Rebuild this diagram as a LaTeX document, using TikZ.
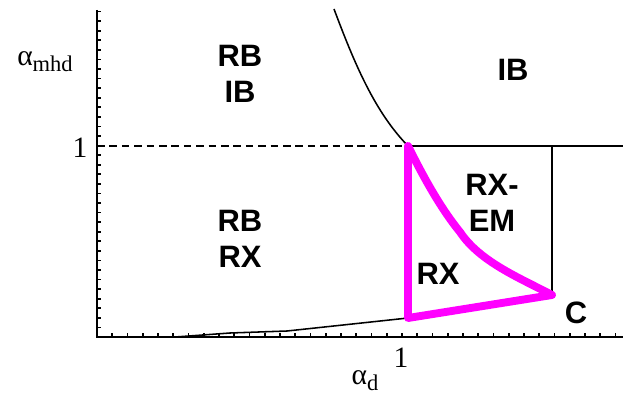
\documentclass[tikz,border=0pt]{standalone}
\usepackage{fontspec}
\setmainfont{Liberation Serif}
\newfontfamily\regionfont{Liberation Sans}
\usetikzlibrary{positioning}
\definecolor{RXMagenta}{RGB}{255,0,255}
\newcommand{\subtxt}[1]{\raisebox{-0.45ex}{\fontsize{16}{18}\selectfont #1}}
\tikzset{
  axis/.style={line width=1.8pt,draw=black},
  tick/.style={line width=1.2pt,draw=black},
  border/.style={line width=1.1pt,draw=black},
  rxpath/.style={line width=5.6pt,draw=RXMagenta,line join=round,line cap=round},
  region/.style={font=\regionfont\bfseries\fontsize{22}{26}\selectfont,align=center,inner sep=0pt},
  axlabel/.style={font=\fontsize{21}{24}\selectfont,inner sep=0pt}
}

\begin{document}
\begin{tikzpicture}[x=0.025cm,y=-0.025cm]
  \useasboundingbox (0,0) rectangle (623,400);
  % axes and ticks
  \coordinate (origin) at (97,337);
  \draw[axis] (97,10) -- (origin) -- (623,337);
  \foreach \k in {1,...,34} \draw[tick] (97,337-9.57*\k) -- ++(4,0);
  \foreach \k in {1,...,34} \draw[tick] (97+15.25*\k,337) -- ++(0,-4);
  \node[axlabel] (xone) at (401,358) {1};
  \node[axlabel] (yone) at (80,148) {1};
  \node[axlabel] (xlab) at (365,381) {α\subtxt{d}};
  \node[axlabel] (ylab) at (45,62) {α\subtxt{mhd}};
  % boundaries
  \coordinate (top) at (408,146);
  \coordinate (low) at (408,318);
  \coordinate (cpt) at (552,295);
  \draw[border,dash pattern=on 0.19cm off 0.12cm,line width=1.4pt] (97,146) -- (top);
  \draw[border] (top) -- (623,146);
  \draw[border] (552,146) -- (cpt);
  \draw[border] (334,9) .. controls (355,65) and (375,112) .. (top);
  \draw[border] (175,337) -- (230,333) -- (287,331) -- (343,325) -- (low);
  % RX region
  \draw[rxpath] (top) -- (low) -- (cpt)
    .. controls (520,278) and (480,262) .. (460,232)
    .. controls (438,205) and (420,170) .. cycle;
  % labels
  \node[region] (rbib) at (240,74) {RB\\IB};
  \node[region] (ib) at (513,70) {IB};
  \node[region] (rbrx) at (240,239) {RB\\RX};
  \node[region] (rxem) at (492,203) {RX-\\EM};
  \node[region] (rx) at (438,274) {RX};
  \node[region] (c) at (576,313) {C};
\end{tikzpicture}
\end{document}
